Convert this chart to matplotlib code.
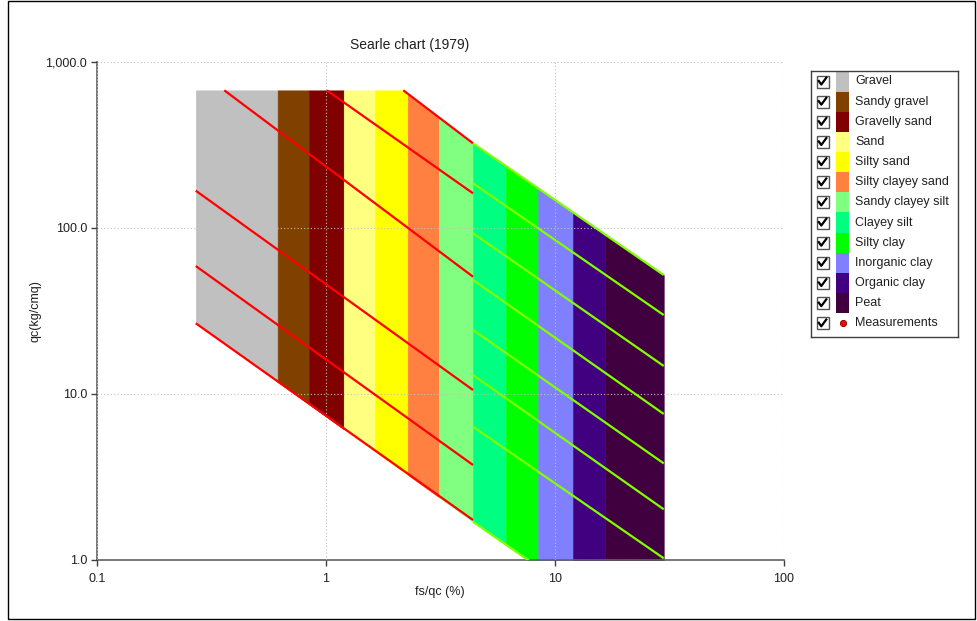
import numpy as np
import matplotlib
matplotlib.use("Agg")
import matplotlib.pyplot as plt
from matplotlib.patches import Rectangle
from matplotlib.lines import Line2D
from matplotlib.ticker import FixedLocator, FixedFormatter, NullLocator

plt.rcParams['font.family'] = ['Liberation Sans', 'DejaVu Sans']

# ---------------- data ----------------
soil_types = ["Gravel", "Sandy gravel", "Gravelly sand", "Sand", "Silty sand",
              "Silty clayey sand", "Sandy clayey silt", "Clayey silt", "Silty clay",
              "Inorganic clay", "Organic clay", "Peat"]
soil_colors = ["#C0C0C0", "#804000", "#800000", "#FFFF80", "#FFFF00", "#FF8040",
               "#80FF80", "#00FF80", "#00FF00", "#8080FF", "#400080", "#400040"]
# fs/qc (%) boundaries of the bands
band_edges = [0.27, 0.615, 0.843, 1.195, 1.637, 2.274, 3.114, 4.385,
              6.11, 8.45, 11.98, 16.59, 29.84]

# upper envelope (fs/qc, qc)
top_x = [0.27, 2.176, 4.385, 29.84]
top_y = [675.0, 675.0, 323.7, 52.1]
# lower envelope (fs/qc, qc)
bottom_x = [0.27, 4.385, 29.84]
bottom_y = [26.67, 1.70, 0.27]

# red constant-friction lines (coarse soils)
red_x1 = [2.176, 1.007, 0.3597, 0.27, 0.27, 0.27]
red_y1 = [675.0, 675.0, 675.0, 167.8, 59.0, 26.67]
red_x2 = [4.385, 4.385, 4.385, 4.385, 4.385, 4.385]
red_y2 = [323.7, 161.8, 50.9, 10.57, 3.735, 1.742]

# green constant-friction lines (fine soils)
green_x1 = 4.385
green_x2 = 29.84
green_y1 = [323.7, 185.9, 92.9, 48.6, 24.3, 13.0, 6.35, 1.70]
green_y2 = [52.1, 29.9, 14.75, 7.58, 3.82, 2.02, 1.024, 0.27]

x_ticks = [0.1, 1, 10, 100]
x_tick_labels = ["0.1", "1", "10", "100"]
y_ticks = [1, 10, 100, 1000]
y_tick_labels = ["1.0", "10.0", "100.0", "1,000.0"]

# ---------------- figure ----------------
W, H = 977, 621
fig = plt.figure(figsize=(W / 100, H / 100), dpi=100)
fig.patch.set_facecolor("white")

def fx(px):
    return px / W

def fy(py):
    return 1 - py / H

ax = fig.add_axes([fx(97), fy(560), fx(784) - fx(97), fy(62) - fy(560)])
ax.set_xscale("log")
ax.set_yscale("log")
ax.set_xlim(0.1, 100)
ax.set_ylim(1, 1000)

ltx, lty = np.log10(top_x), np.log10(top_y)
lbx, lby = np.log10(bottom_x), np.log10(bottom_y)
for i, (name, col) in enumerate(zip(soil_types, soil_colors)):
    xs = np.geomspace(band_edges[i], band_edges[i + 1], 60)
    lx = np.log10(xs)
    up = 10 ** np.interp(lx, ltx, lty)
    lo = 10 ** np.interp(lx, lbx, lby)
    ax.fill_between(xs, lo, up, facecolor=col, edgecolor=col, linewidth=0.4, zorder=1)

for x1, y1, x2, y2 in zip(red_x1, red_y1, red_x2, red_y2):
    ax.plot([x1, x2], [y1, y2], color="#FF0000", lw=1.6, zorder=3, solid_capstyle="butt")
for y1, y2 in zip(green_y1, green_y2):
    ax.plot([green_x1, green_x2], [y1, y2], color="#80FF00", lw=1.6, zorder=3, solid_capstyle="butt")

ax.xaxis.set_major_locator(FixedLocator(x_ticks))
ax.xaxis.set_major_formatter(FixedFormatter(x_tick_labels))
ax.xaxis.set_minor_locator(NullLocator())
ax.yaxis.set_major_locator(FixedLocator(y_ticks))
ax.yaxis.set_major_formatter(FixedFormatter(y_tick_labels))
ax.yaxis.set_minor_locator(NullLocator())
ax.tick_params(axis="both", direction="out", length=4, width=1, color="#404040",
               labelsize=9, labelcolor="#202020", pad=3)
ax.tick_params(axis="x", pad=5)
ax.set_axisbelow(False)
ax.grid(True, which="major", linestyle=(0, (1, 2)), color="#c0c0c0", linewidth=0.8, zorder=2)
for s in ["top", "right"]:
    ax.spines[s].set_visible(False)
for s in ["left", "bottom"]:
    ax.spines[s].set_color("#606060")
    ax.spines[s].set_linewidth(1.2)

fig.text(fx(410), fy(45), "Searle chart (1979)", ha="center", va="center", fontsize=10, color="#202020")
fig.text(fx(440), fy(592), "fs/qc (%)", ha="center", va="center", fontsize=9, color="#202020")
fig.text(fx(35), fy(311), "qc(kg/cmq)", ha="center", va="center", rotation=90, fontsize=9, color="#202020")

# ---------------- legend ----------------
lx0, lx1, ly0, ly1 = 811, 958, 71, 337
lax = fig.add_axes([fx(lx0), fy(ly1), fx(lx1) - fx(lx0), fy(ly0) - fy(ly1)])
lax.set_xlim(lx0, lx1)
lax.set_ylim(ly1, ly0)
lax.set_xticks([])
lax.set_yticks([])
for s in lax.spines.values():
    s.set_color("#404040")
    s.set_linewidth(1.0)

row_h = 20.15
legend_labels = soil_types + ["Measurements"]
for i, lab in enumerate(legend_labels):
    yc = 81.5 + i * row_h
    # checkbox
    lax.add_patch(Rectangle((816.5, yc - 6), 12, 12, facecolor="white", edgecolor="#555555", lw=1.0))
    lax.add_line(Line2D([818.8, 821.3, 826.3], [yc - 0.5, yc + 3.0, yc - 3.8], color="black", lw=1.6))
    if i < len(soil_colors):
        lax.add_patch(Rectangle((836, yc - row_h / 2), 13, row_h, facecolor=soil_colors[i], edgecolor="none"))
    else:
        lax.plot([842.5], [yc], marker="o", markersize=4.5, markerfacecolor="#FF0000",
                 markeredgecolor="#800000", markeredgewidth=0.6, linestyle="none")
    lax.text(855, yc, lab, ha="left", va="center", fontsize=9, color="#202020")

# outer frame
fig.patches.append(Rectangle((fx(8), fy(619)), fx(975) - fx(8), fy(1) - fy(619),
                             transform=fig.transFigure, fill=False, edgecolor="black", lw=1.0))

fig.savefig("out.png", dpi=100)
